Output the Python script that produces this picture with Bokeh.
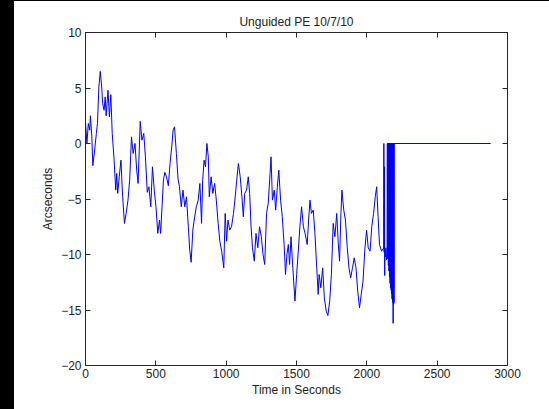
from bokeh.plotting import figure
from bokeh.models import Range1d, LinearAxis, Div, FixedTicker
from bokeh.layouts import row, column
from bokeh.embed import file_html
from bokeh.resources import INLINE

# ---- data ----
time_s = [0, 10, 20, 30, 35, 45, 52, 65, 77, 85, 95, 105, 115, 122, 132, 140, 147, 160, 170, 180,
          190, 202, 215, 222, 229, 240, 252, 264, 277, 289, 302, 314, 327, 339, 352, 364, 374, 389, 401, 414,
          426, 439, 451, 464, 476, 489, 501, 514, 526, 534, 544, 554, 564, 576, 589, 601, 613, 623, 633, 646,
          658, 668, 681, 693, 706, 718, 731, 741, 751, 763, 776, 788, 801, 813, 825, 833, 843, 853, 863, 873,
          880, 893, 905, 918, 930, 943, 955, 968, 983, 993, 1003, 1013, 1025, 1038, 1052, 1062, 1075, 1087, 1100, 1112,
          1122, 1132, 1145, 1157, 1167, 1177, 1187, 1200, 1212, 1225, 1237, 1250, 1262, 1274, 1287, 1299, 1312, 1319, 1329, 1342,
          1352, 1362, 1374, 1387, 1399, 1412, 1422, 1432, 1442, 1451, 1461, 1474, 1489, 1501, 1511, 1524, 1536, 1549, 1561, 1576,
          1586, 1596, 1606, 1619, 1631, 1644, 1654, 1661, 1673, 1686, 1698, 1711, 1723, 1736, 1748, 1761, 1773, 1786, 1796, 1806,
          1816, 1823, 1836, 1848, 1861, 1873, 1885, 1898, 1910, 1923, 1935, 1948, 1960, 1973, 1985, 1998, 2010, 2023, 2035, 2048,
          2060, 2070, 2080, 2090, 2105, 2120]
arcsec = [1.95, 0.0, 1.8, 1.2, 2.5, 0.6, -2.0, -0.6, 0.9, 1.8, 5.1, 6.5, 5.1, 3.6, 3.0, 4.2, 2.5, 4.8, 2.4, 4.4,
          0.9, -1.2, -4.2, -2.7, -4.5, -3.0, -1.5, -4.8, -7.2, -6.3, -5.1, -3.3, 0.6, -0.9, 0.0, -2.4, -3.6, 2.0, 0.3, 0.9,
          -1.2, -4.4, -3.9, -5.7, -2.1, -4.2, -5.7, -8.1, -6.9, -8.1, -5.7, -3.3, -2.6, -3.0, -3.8, -1.8, -0.3, 1.2, 1.5, -0.9,
          -3.2, -3.9, -5.7, -4.2, -5.7, -4.8, -7.5, -9.6, -10.7, -7.8, -6.6, -5.7, -5.1, -3.6, -7.2, -3.3, -1.5, -2.1, 0.0, -1.2,
          -4.8, -3.0, -4.5, -3.6, -5.1, -7.2, -8.8, -9.7, -11.2, -6.3, -8.8, -6.9, -7.8, -7.5, -6.3, -5.1, -3.3, -1.8, -3.0, -4.8,
          -6.6, -4.5, -4.2, -3.0, -4.5, -7.5, -9.4, -10.6, -8.1, -9.4, -7.5, -8.4, -10.0, -10.9, -6.3, -5.4, -2.7, -1.2, -5.1, -4.2,
          -6.0, -4.2, -2.4, -5.1, -6.6, -9.1, -11.8, -10.0, -9.1, -10.9, -8.4, -11.2, -14.2, -11.8, -10.0, -7.5, -5.7, -7.5, -8.1, -9.1,
          -6.9, -5.1, -6.3, -6.0, -8.1, -11.2, -13.6, -11.8, -13.0, -11.2, -13.9, -15.1, -15.5, -14.2, -11.8, -7.2, -8.4, -6.3, -8.8, -10.6,
          -6.3, -4.2, -6.0, -6.9, -9.4, -11.2, -12.1, -11.2, -10.3, -11.2, -13.3, -14.8, -13.6, -12.4, -9.7, -7.8, -9.4, -9.7, -7.5, -6.3,
          -4.8, -3.9, -6.6, -9.1, -9.7, -9.4]

# final segment: oscillation between 0 and the signal, then flat zero
tail_time = [2121, 2123, 2126, 2127, 2129, 2132, 2136, 2140, 2144,
             2146, 2147, 2148, 2149, 2150, 2151, 2152, 2153, 2154, 2155, 2156, 2157, 2158, 2159, 2160,
             2161, 2162, 2163, 2164, 2165, 2166, 2167, 2168, 2169, 2170, 2171, 2172, 2173, 2174, 2175,
             2176, 2177, 2178, 2179, 2180, 2181, 2182, 2183, 2184, 2185, 2186, 2187, 2188, 2189, 2190,
             2191, 2192, 2193, 2194, 2880]
tail_arcsec = [0.0, -9.8, -2.1, -11.9, -9.5, -10.2, -9.4, -10.5, -9.8,
               0.0, -10.0, 0.0, -10.4, 0.0, -9.6, 0.0, -11.0, 0.0, -10.2, 0.0, -11.5, 0.0, -10.8, 0.0,
               -12.0, 0.0, -11.4, 0.0, -12.6, 0.0, -12.0, 0.0, -13.0, 0.0, -12.4, 0.0, -13.2, 0.0, -13.5,
               0.0, -12.8, 0.0, -14.0, 0.0, -13.6, 0.0, -14.3, 0.0, -14.1, 0.0, -16.2, 0.0, -14.5, 0.0,
               -14.2, 0.0, -14.4, 0.0, 0.0]

x_ticks = [0, 500, 1000, 1500, 2000, 2500, 3000]
y_ticks = [-20, -15, -10, -5, 0, 5, 10]

title_text = "Unguided PE 10/7/10"
x_label = "Time in Seconds"
y_label = "Arcseconds"

FONT = "Liberation Sans"
AX_COL = "#262626"

p = figure(width=535, height=408, output_backend="svg", toolbar_location=None,
           x_range=Range1d(0, 3000), y_range=Range1d(-20, 10),
           min_border_left=71, min_border_right=42, min_border_top=31, min_border_bottom=44)
p.margin = 0
p.background_fill_color = "white"
p.border_fill_color = "white"
p.outline_line_color = AX_COL
p.outline_line_width = 1
p.grid.visible = False

p.title.text = title_text
p.title.align = "center"
p.title.text_font = FONT
p.title.text_font_size = "12px"
p.title.text_font_style = "normal"
p.title.text_color = "#222222"
p.title.offset = 0
p.title.standoff = 8

p.line(time_s + tail_time, arcsec + tail_arcsec, line_color="#0000ff", line_width=1)

for ax in (p.xaxis[0], p.yaxis[0]):
    ax.major_tick_in = 5
    ax.major_tick_out = 0
    ax.minor_tick_in = 0
    ax.minor_tick_out = 0
    ax.axis_line_color = AX_COL
    ax.major_tick_line_color = AX_COL
    ax.major_label_text_font = FONT
    ax.major_label_text_font_size = "12px"
    ax.major_label_text_color = "#222222"
    ax.axis_label_text_font = FONT
    ax.axis_label_text_font_size = "12px"
    ax.axis_label_text_font_style = "normal"
    ax.axis_label_text_color = "#222222"

p.xaxis[0].ticker = FixedTicker(ticks=x_ticks)
p.yaxis[0].ticker = FixedTicker(ticks=y_ticks)
p.xaxis[0].axis_label = x_label
p.yaxis[0].axis_label = y_label
p.xaxis[0].major_label_standoff = 3
p.yaxis[0].major_label_standoff = 4
p.xaxis[0].axis_label_standoff = 2
p.yaxis[0].axis_label_standoff = 3

ax_r = LinearAxis(ticker=FixedTicker(ticks=y_ticks), major_label_text_font_size="0px",
                  major_tick_in=5, major_tick_out=0, minor_tick_in=0, minor_tick_out=0,
                  axis_line_color=AX_COL, major_tick_line_color=AX_COL)
ax_t = LinearAxis(ticker=FixedTicker(ticks=x_ticks), major_label_text_font_size="0px",
                  major_tick_in=5, major_tick_out=0, minor_tick_in=0, minor_tick_out=0,
                  axis_line_color=AX_COL, major_tick_line_color=AX_COL)
p.add_layout(ax_r, "right")
p.add_layout(ax_t, "above")

stripe = Div(width=14, height=409, margin=0, styles={"background-color": "black"})
top_line = Div(width=535, height=1, margin=0, styles={"background-color": "black"})
layout = row(stripe, column(top_line, p, spacing=0, margin=0), spacing=0, margin=0)

open("out.html", "w").write(file_html(layout, INLINE))
